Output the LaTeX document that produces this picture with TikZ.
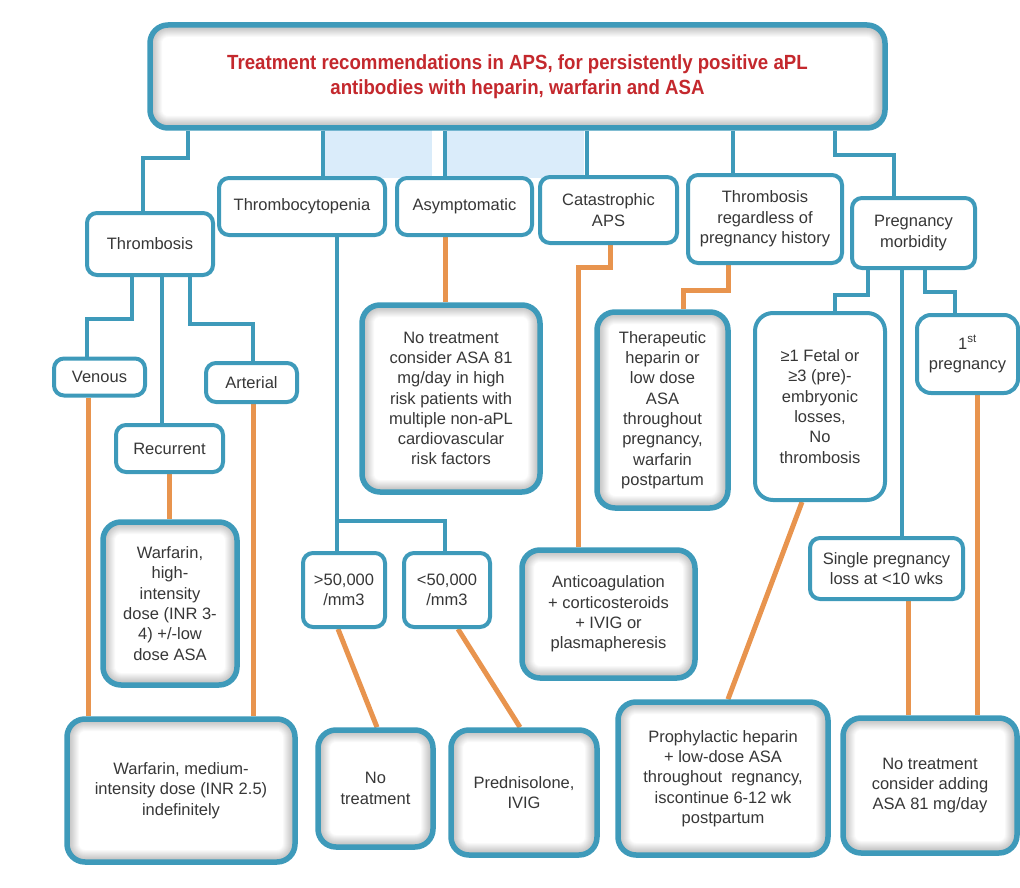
\documentclass[tikz,border=0pt]{standalone}
\usepackage{fontspec}
\setmainfont{Liberation Sans}
\newfontface\titlefont[FakeStretch=0.91]{Liberation Sans Bold}
\usepackage{tikz}
\usetikzlibrary{backgrounds}
\definecolor{apsteal}{RGB}{62,154,186}
\definecolor{apsorange}{RGB}{232,148,78}
\definecolor{apsred}{RGB}{196,40,45}
\definecolor{apspale}{RGB}{218,236,250}
\definecolor{apstext}{RGB}{55,55,55}
\tikzset{
    %box sizes in pixels of the original chart
    wh/.style 2 args={minimum width=#1, minimum height=#2},
}

\begin{document}
\begin{tikzpicture}[x=1pt, y=-1pt,
    box/.style = {draw=apsteal, line width=4pt, fill=white, rounded corners=10pt,
                  align=center, text=apstext, inner sep=2pt,
                  font=\fontsize{16.5}{20.3}\selectfont},
    roundbox/.style = {box, rounded corners=18pt},
    treat/.style = {box, line width=5.5pt, rounded corners=18pt,
                    path picture={
                      \foreach \lw in {2,4,...,24}
                        \draw[black, line width=\lw pt, opacity=0.025, rounded corners=18pt]
                          (path picture bounding box.south west) rectangle
                          (path picture bounding box.north east);
                    }},
    tline/.style = {draw=apsteal, line width=4pt},
    oline/.style = {draw=apsorange, line width=5pt},
  ]
  \useasboundingbox (0,0) rectangle (1020,888);

  \node[treat, wh={735}{103}, font=\titlefont\fontsize{20.5}{25}\selectfont, text=apsred]
    (head) at (517.5,76.5)
    {Treatment recommendations in APS, for persistently positive aPL\\antibodies with heparin, warfarin and ASA};

  % first row
  \node[box, wh={126}{62}] (thromb) at (150,244) {Thrombosis};
  \node[box, wh={166}{57}] (thrcyt) at (302,206.5) {Thrombocytopenia};
  \node[box, wh={135}{57}] (asym) at (464.5,206.5) {Asymptomatic};
  \node[box, wh={137}{66}] (cat) at (608.5,210) {Catastrophic\\APS};
  \node[box, wh={154}{88}] (tregard) at (765,219) {Thrombosis\\regardless of\\pregnancy history};
  \node[box, wh={123}{70}] (pregm) at (913.5,233) {Pregnancy\\morbidity};

  % second row
  \node[box, wh={91}{37}] (venous) at (99.5,377) {Venous};
  \node[box, wh={91}{39}] (arterial) at (251.5,382.5) {Arterial};
  \node[box, wh={107}{47}] (recur) at (169.5,448.5) {Recurrent};
  \node[treat, wh={178}{187}] (noasa) at (451,398.5)
    {No treatment\\consider ASA 81\\mg/day in high\\risk patients with\\multiple non-aPL\\cardiovascular\\risk factors};
  \node[treat, wh={131}{196}] (ther) at (662.5,410)
    {Therapeutic\\heparin or\\low dose\\ASA\\throughout\\pregnancy,\\warfarin\\postpartum};
  \node[roundbox, wh={130}{187}] (fetal) at (820,406.5)
    {≥1 Fetal or\\≥3 (pre)-\\embryonic\\losses,\\No\\thrombosis};
  \node[box, wh={101}{78}, rounded corners=14pt] (first) at (967.5,354)
    {1\textsuperscript{st}\\pregnancy};

  % third row
  \node[treat, wh={134}{163}] (whigh) at (170,603.5)
    {Warfarin,\\high-\\intensity\\dose (INR 3-\\4) +/-low\\dose ASA};
  \node[box, wh={82}{74}] (gt50) at (344,590) {>50,000\\/mm3};
  \node[box, wh={86}{74}] (lt50) at (447,590) {<50,000\\/mm3};
  \node[treat, wh={173}{128}] (anti) at (608.5,614)
    {Anticoagulation\\+ corticosteroids\\+ IVIG or\\plasmapheresis};
  \node[box, wh={153}{61}] (single) at (886.5,568.5) {Single pregnancy\\loss at <10 wks};

  % last row
  \node[treat, wh={228}{143}] (wmed) at (181,790.5)
    {Warfarin, medium-\\intensity dose (INR 2.5)\\indefinitely};
  \node[treat, wh={115}{117}] (notr) at (375.5,788.5) {No\\treatment};
  \node[treat, wh={146}{125}] (pred) at (524,792.5) {Prednisolone,\\IVIG};
  \node[treat, wh={210}{153}] (proph) at (723,778.5)
    {Prophylactic heparin\\+ low-dose ASA\\throughout \ regnancy,\\iscontinue 6-12 wk\\postpartum};
  \node[treat, wh={174}{135}] (noadd) at (930,785.5)
    {No treatment\\consider adding\\ASA 81 mg/day};

  \begin{pgfonlayer}{background}
    \fill[apspale] (323,130) rectangle (432,178);
    \fill[apspale] (447,130) rectangle (584,178);
    % header to first row
    \draw[tline] ([xshift=-329.5]head.south) -- ++(0,27) -| ([xshift=-7]thromb.north);
    \draw[tline] ([xshift=21]thrcyt.north) -- ([xshift=21]thrcyt.north |- head.south);
    \draw[tline] ([xshift=-20]asym.north) -- ([xshift=-20]asym.north |- head.south);
    \draw[tline] ([xshift=-22]cat.north) -- ([xshift=-22]cat.north |- head.south);
    \draw[tline] ([xshift=-32]tregard.north) -- ([xshift=-32]tregard.north |- head.south);
    \draw[tline] ([xshift=317.5]head.south) -- ++(0,24) -| ([xshift=-20]pregm.north);
    % thrombosis
    \draw[tline] ([xshift=-18]thromb.south) -- ++(0,42) -| ([xshift=-12.5]venous.north);
    \draw[tline] ([xshift=12]thromb.south) -- ([xshift=12]thromb.south |- recur.north);
    \draw[tline] ([xshift=40]thromb.south) -- ++(0,47) -| ([xshift=1.5]arterial.north);
    \draw[oline] ([xshift=-11.5]venous.south) -- ([xshift=-11.5]venous.south |- wmed.north);
    \draw[oline] ([xshift=1.5]arterial.south) -- ([xshift=1.5]arterial.south |- wmed.north);
    \draw[oline] (recur.south) -- (recur.south |- whigh.north);
    % thrombocytopenia and asymptomatic
    \draw[oline] ([xshift=-19.5]asym.south) -- ([xshift=-19.5]asym.south |- noasa.north);
    \draw[tline] ([xshift=35]thrcyt.south) -- ([xshift=35]thrcyt.south |- gt50.north);
    \draw[tline] ([xshift=-7,yshift=30]gt50.north) -| ([xshift=-2]lt50.north);
    \draw[oline] ([xshift=-6]gt50.south) -- ([xshift=1.5]notr.north);
    \draw[oline] ([xshift=11]lt50.south) -- ([xshift=-4]pred.north);
    % catastrophic, regardless of pregnancy
    \draw[oline] ([xshift=1.5]cat.south) -- ++(0,22) -| ([xshift=-30.5]anti.north);
    \draw[oline] ([xshift=-37]tregard.south) -- ++(0,25) -| ([xshift=20.5]ther.north);
    % pregnancy morbidity
    \draw[tline] ([xshift=-45.5]pregm.south) -- ++(0,25) -| ([xshift=15]fetal.north);
    \draw[tline] ([xshift=-11.5]pregm.south) -- ([xshift=-11.5]pregm.south |- single.north);
    \draw[tline] ([xshift=11.5]pregm.south) -- ++(0,22) -| ([xshift=-12.5]first.north);
    \draw[oline] ([xshift=-18]fetal.south) -- ([xshift=5]proph.north);
    \draw[oline] ([xshift=21.5]single.south) -- ([xshift=21.5]single.south |- noadd.north);
    \draw[oline] ([xshift=9.5]first.south) -- ([xshift=9.5]first.south |- noadd.north);
  \end{pgfonlayer}
\end{tikzpicture}
\end{document}
